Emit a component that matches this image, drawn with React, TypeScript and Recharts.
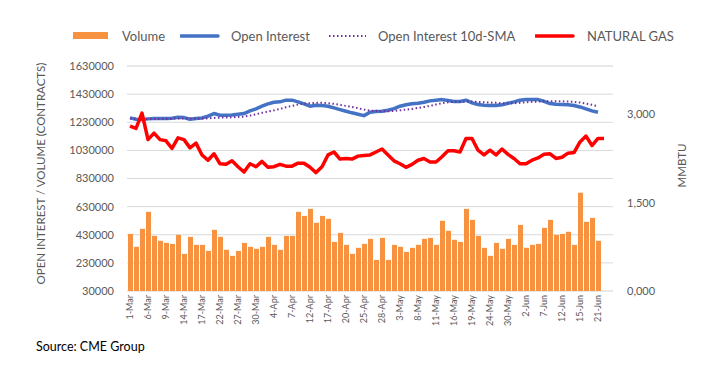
import { ComposedChart, Bar, Line, XAxis, YAxis, CartesianGrid, Label } from 'recharts';

const categories = [
  '1-Mar', '2-Mar', '3-Mar', '6-Mar', '7-Mar', '8-Mar', '9-Mar', '10-Mar', '13-Mar', '14-Mar',
  '15-Mar', '16-Mar', '17-Mar', '20-Mar', '21-Mar', '22-Mar', '23-Mar', '24-Mar', '27-Mar', '28-Mar',
  '29-Mar', '30-Mar', '31-Mar', '3-Apr', '4-Apr', '5-Apr', '6-Apr', '7-Apr', '10-Apr', '11-Apr',
  '12-Apr', '13-Apr', '14-Apr', '17-Apr', '18-Apr', '19-Apr', '20-Apr', '21-Apr', '24-Apr', '25-Apr',
  '26-Apr', '27-Apr', '28-Apr', '1-May', '2-May', '3-May', '4-May', '5-May', '8-May', '9-May',
  '10-May', '11-May', '12-May', '15-May', '16-May', '17-May', '18-May', '19-May', '22-May', '23-May',
  '24-May', '25-May', '26-May', '30-May', '31-May', '1-Jun', '2-Jun', '5-Jun', '6-Jun', '7-Jun',
  '8-Jun', '9-Jun', '12-Jun', '13-Jun', '14-Jun', '15-Jun', '16-Jun', '20-Jun', '21-Jun', '22-Jun',
  '23-Jun',
];

// contracts
const volume = [
  436000, 344000, 472000, 593000, 422000, 387000, 372000, 365000, 429000, 294000,
  415000, 358000, 358000, 315000, 465000, 415000, 323000, 280000, 315000, 372000,
  344000, 330000, 344000, 415000, 358000, 323000, 422000, 422000, 593000, 564000,
  614000, 515000, 564000, 543000, 379000, 443000, 358000, 294000, 337000, 365000,
  401000, 251000, 408000, 251000, 358000, 344000, 308000, 337000, 358000, 401000,
  408000, 358000, 529000, 458000, 394000, 379000, 614000, 536000, 422000, 337000,
  280000, 372000, 330000, 401000, 358000, 500000, 337000, 358000, 365000, 479000,
  536000, 429000, 436000, 451000, 358000, 729000, 522000, 550000, 387000,
];

const openInterest = [
  1261000, 1251000, 1249000, 1254000, 1256000, 1256000, 1256000, 1258000, 1265000, 1263000,
  1251000, 1256000, 1261000, 1273000, 1292000, 1280000, 1280000, 1282000, 1287000, 1292000,
  1311000, 1325000, 1344000, 1361000, 1372000, 1375000, 1387000, 1387000, 1375000, 1361000,
  1344000, 1351000, 1349000, 1344000, 1332000, 1320000, 1308000, 1297000, 1287000, 1277000,
  1301000, 1306000, 1308000, 1315000, 1327000, 1344000, 1354000, 1361000, 1365000, 1372000,
  1382000, 1387000, 1391000, 1384000, 1377000, 1377000, 1387000, 1368000, 1356000, 1351000,
  1349000, 1349000, 1354000, 1365000, 1375000, 1387000, 1391000, 1391000, 1391000, 1379000,
  1363000, 1358000, 1356000, 1354000, 1349000, 1339000, 1325000, 1311000, 1301000,
];

const openInterestSma = [
  1258000, 1254000, 1254000, 1254000, 1254000, 1254000, 1254000, 1256000, 1256000, 1256000,
  1256000, 1256000, 1256000, 1258000, 1261000, 1263000, 1263000, 1265000, 1268000, 1270000,
  1277000, 1287000, 1297000, 1306000, 1315000, 1325000, 1337000, 1346000, 1356000, 1363000,
  1365000, 1368000, 1368000, 1365000, 1361000, 1354000, 1346000, 1339000, 1330000, 1320000,
  1313000, 1311000, 1308000, 1308000, 1311000, 1315000, 1320000, 1325000, 1332000, 1339000,
  1346000, 1356000, 1365000, 1372000, 1375000, 1375000, 1377000, 1377000, 1375000, 1372000,
  1370000, 1368000, 1365000, 1363000, 1365000, 1368000, 1372000, 1375000, 1377000, 1379000,
  1379000, 1379000, 1379000, 1377000, 1375000, 1370000, 1363000, 1354000, 1344000,
];

// $/MMBtu
const naturalGas = [
  2.8, 2.76, 3.02, 2.57, 2.68, 2.57, 2.55, 2.42, 2.6, 2.57,
  2.43, 2.51, 2.31, 2.22, 2.33, 2.16, 2.15, 2.21, 2.11, 2.02,
  2.16, 2.11, 2.2, 2.1, 2.11, 2.15, 2.12, 2.12, 2.17, 2.17,
  2.1, 2.01, 2.11, 2.31, 2.36, 2.24, 2.25, 2.24, 2.29, 2.3,
  2.31, 2.36, 2.41, 2.31, 2.21, 2.16, 2.1, 2.15, 2.22, 2.25,
  2.19, 2.19, 2.28, 2.38, 2.38, 2.36, 2.59, 2.59, 2.39, 2.31,
  2.39, 2.31, 2.41, 2.32, 2.25, 2.16, 2.16, 2.22, 2.26, 2.32,
  2.33, 2.25, 2.27, 2.34, 2.35, 2.53, 2.63, 2.47, 2.59, 2.59,
];

const leftTicks = [30000, 230000, 430000, 630000, 830000, 1030000, 1230000, 1430000, 1630000];
const leftMinorTicks = Array.from({ length: 41 }, (_, i) => 30000 + i * 40000);
const rightTicks = [0, 1.5, 3];
const boundaryTicks = Array.from({ length: categories.length + 1 }, (_, i) => i);

const data = categories.map((date, i) => ({
  date,
  volume: volume[i],
  oi: openInterest[i],
  sma: openInterestSma[i],
  gas: naturalGas[i],
}));

const font = 'Lato, "Open Sans", sans-serif';
const textColor = '#595959';
const colors = { volume: '#F69240', oi: '#4472C4', sma: '#7030A0', gas: '#FF0000' };

const DateTick = ({ x, y, payload }: any) => (
  <text
    x={x}
    y={y}
    transform={`rotate(-90 ${x} ${y})`}
    textAnchor="end"
    dy="0.35em"
    fontSize={9}
    fontFamily={font}
    fill={textColor}
  >
    {payload.value}
  </text>
);

const LeftTitle = ({ viewBox }: any) => {
  const cx = viewBox.x + 20;
  const cy = viewBox.y + viewBox.height / 2 - 5;
  return (
    <text x={cx} y={cy} transform={`rotate(-90 ${cx} ${cy})`} textAnchor="middle" dominantBaseline="central"
      fontSize={11.5} fontFamily={font} fill={textColor}>
      OPEN INTEREST / VOLUME (CONTRACTS)
    </text>
  );
};

const RightTitle = ({ viewBox }: any) => {
  const cx = viewBox.x + 68;
  const cy = viewBox.y + viewBox.height / 2 - 13;
  return (
    <text x={cx} y={cy} transform={`rotate(-90 ${cx} ${cy})`} textAnchor="middle" dominantBaseline="central"
      fontSize={11.5} fontFamily={font} fill={textColor}>
      MMBTU
    </text>
  );
};

const legendText = { position: 'absolute' as const, top: 28, height: 16, lineHeight: '16px', fontSize: 13, fontFamily: font, color: textColor, whiteSpace: 'nowrap' as const };

function ChartLegend() {
  return (
    <>
      <div style={{ position: 'absolute', left: 73, top: 32, width: 35, height: 7, background: colors.volume }} />
      <div style={{ ...legendText, left: 122 }}>Volume</div>
      <svg style={{ position: 'absolute', left: 180, top: 32 }} width={40} height={8}>
        <line x1={1} y1={4} x2={38} y2={4} stroke={colors.oi} strokeWidth={3.5} strokeLinecap="round" />
      </svg>
      <div style={{ ...legendText, left: 231 }}>Open Interest</div>
      <svg style={{ position: 'absolute', left: 328, top: 32 }} width={40} height={8}>
        <line x1={1} y1={4} x2={38} y2={4} stroke={colors.sma} strokeWidth={2} strokeDasharray="1.5 2.5" />
      </svg>
      <div style={{ ...legendText, left: 378 }}>Open Interest 10d-SMA</div>
      <svg style={{ position: 'absolute', left: 535, top: 32 }} width={40} height={8}>
        <line x1={1} y1={4} x2={38} y2={4} stroke={colors.gas} strokeWidth={3.5} strokeLinecap="round" />
      </svg>
      <div style={{ ...legendText, left: 587 }}>NATURAL GAS</div>
    </>
  );
}

export default function App() {
  return (
    <div style={{ position: 'absolute', left: 0, top: 0, width: 721, height: 371, background: '#fff' }}>
      <ComposedChart width={721} height={371} data={data} margin={{ top: 66, right: 10, bottom: 0, left: 20 }} barSize={5}>
        <CartesianGrid vertical={false} stroke="#efefef" yAxisId="minor" />
        <CartesianGrid vertical={false} stroke="#d9d9d9" />
        <XAxis
          xAxisId="bounds"
          type="number"
          domain={[0, categories.length]}
          ticks={boundaryTicks}
          interval={0}
          allowDataOverflow
          tick={false}
          tickSize={4}
          height={0}
          axisLine={{ stroke: '#bfbfbf' }}
          tickLine={{ stroke: '#bfbfbf' }}
        />
        <XAxis
          dataKey="date"
          interval={2}
          height={80}
          tickSize={0}
          tickMargin={4}
          axisLine={false}
          tickLine={false}
          tick={<DateTick />}
        />
        <YAxis
          domain={[30000, 1630000]}
          ticks={leftTicks}
          width={107}
          tickSize={0}
          tickMargin={13}
          axisLine={false}
          tickLine={false}
          tick={{ fontSize: 11, fontFamily: font, fill: textColor }}
          tickFormatter={(v: number) => String(v)}
        >
          <Label content={<LeftTitle />} />
        </YAxis>
        <YAxis yAxisId="minor" hide domain={[30000, 1630000]} ticks={leftMinorTicks} interval={0} />
        <YAxis
          yAxisId="right"
          orientation="right"
          domain={[0, 3.82]}
          ticks={rightTicks}
          width={98}
          tickSize={0}
          tickMargin={14}
          axisLine={false}
          tickLine={false}
          tick={{ fontSize: 11, fontFamily: font, fill: textColor }}
          tickFormatter={(v: number) => v.toFixed(3).replace('.', ',')}
        >
          <Label content={<RightTitle />} />
        </YAxis>
        <Bar dataKey="volume" fill={colors.volume} isAnimationActive={false} />
        <Line dataKey="oi" type="linear" stroke={colors.oi} strokeWidth={3.5} strokeLinejoin="round" dot={false} isAnimationActive={false} />
        <Line dataKey="sma" type="linear" stroke={colors.sma} strokeWidth={2} strokeDasharray="1.5 2.5" dot={false} isAnimationActive={false} />
        <Line yAxisId="right" dataKey="gas" type="linear" stroke={colors.gas} strokeWidth={3.5} strokeLinejoin="round" dot={false} isAnimationActive={false} />
      </ComposedChart>
      <ChartLegend />
      <div style={{ position: 'absolute', left: 36, top: 340, fontSize: 12.5, fontFamily: font, color: '#000', lineHeight: '14px' }}>
        Source: CME Group
      </div>
    </div>
  );
}
